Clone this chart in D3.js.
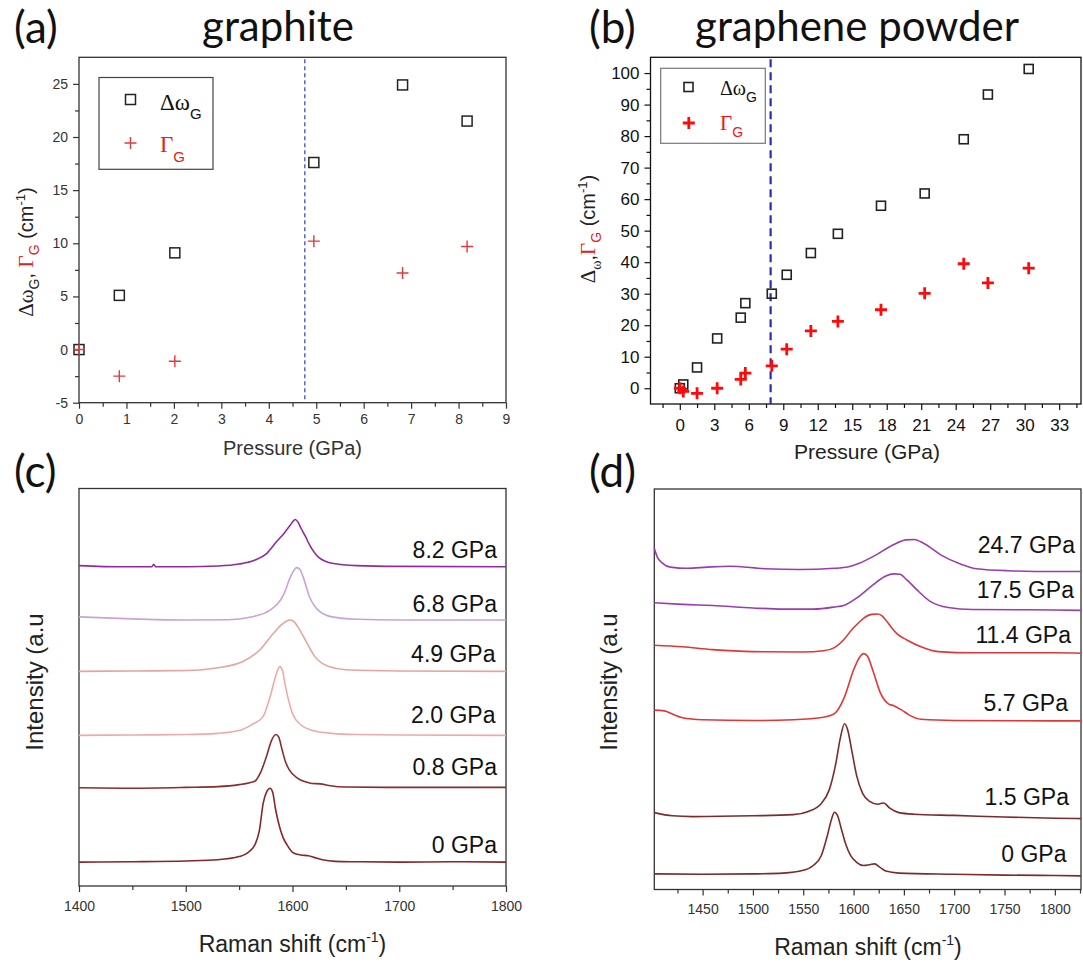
<!DOCTYPE html>
<html><head><meta charset="utf-8">
<script src="https://cdn.jsdelivr.net/npm/d3@7"></script>
<style>body{margin:0;background:#fff}</style>
</head><body><svg id="c" width="1083" height="966"></svg>
<script>
// ---------------- DATA ----------------
// (a) graphite
const pressureA = [0, 0.85, 2.02, 4.95, 6.82, 8.18];
const shiftA    = [0, 5.1, 9.1, 17.6, 24.9, 21.5];
const widthA    = [0, -2.5, -1.1, 10.2, 7.2, 9.7];
const transitionA = 4.76;
const xTicksA = [0,1,2,3,4,5,6,7,8,9];
const yTicksA = [-5,0,5,10,15,20,25];

// (b) graphene powder
const pressureB = [0, 0.3, 1.5, 3.25, 5.3, 5.7, 8.0, 9.3, 11.4, 13.75, 17.5, 21.3, 24.7, 26.8, 30.35];
const shiftB    = [0, 1.2, 6.6, 15.8, 22.4, 27.0, 30.0, 36.0, 42.9, 49.0, 57.9, 61.8, 79.0, 93.2, 101.3];
const widthB    = [0, -1.0, -1.6, 0, 2.8, 4.8, 7.1, 12.4, 18.2, 21.2, 24.9, 30.1, 39.5, 33.4, 38.1];
const transitionB = 7.9;
const xTicksB = [0,3,6,9,12,15,18,21,24,27,30,33];
const yTicksB = [0,10,20,30,40,50,60,70,80,90,100];

// (c) graphite Raman spectra [shift, offset intensity]
const labelsC = ["0 GPa","0.8 GPa","2.0 GPa","4.9 GPa","6.8 GPa","8.2 GPa"];
const specC_0  = [[1400,6.0],[1450,6.1],[1500,6.3],[1530,6.6],[1550,7.4],[1560,8.8],[1565,10.5],[1569,14],[1572.5,20.8],[1576,23.8],[1579,24.6],[1581.5,23.5],[1584,19.5],[1587,15.8],[1591,12.3],[1595,10.3],[1601,8.3],[1608,7.8],[1615,7.6],[1620,7.2],[1628,6.6],[1640,6.2],[1660,6.1],[1700,6.0],[1750,6.1],[1800,6.0]];
const specC_08 = [[1400,24.7],[1450,24.6],[1500,24.8],[1530,25.0],[1550,25.5],[1560,26.0],[1565,26.4],[1570,28.5],[1575.5,32.5],[1580.5,36.7],[1584.4,38.1],[1587,37.5],[1590.3,34.2],[1593.5,31.2],[1597,29.2],[1605,27.1],[1612,26.2],[1618,25.8],[1626,25.7],[1634,25.3],[1650,24.9],[1700,24.8],[1750,24.8],[1800,24.8]];
const specC_20 = [[1400,37.9],[1450,38.0],[1500,38.1],[1530,38.4],[1550,39.1],[1562,40.6],[1572.4,42.6],[1579,47.6],[1584,52.6],[1588,55.2],[1590.5,54.3],[1593.5,50.1],[1597,46],[1600,43.4],[1608,40.5],[1618,39.2],[1637,38.4],[1660,38.1],[1700,38.0],[1800,37.9]];
const specC_49 = [[1400,54.0],[1450,54.1],[1500,54.2],[1530,54.9],[1553,56.4],[1569,59.3],[1582,63.5],[1590,65.8],[1597.4,66.9],[1601,66.6],[1605,65.2],[1613,61.4],[1621,57.7],[1634,55.2],[1650,54.4],[1700,54.1],[1800,54.0]];
const specC_68 = [[1400,67.7],[1450,67.2],[1500,66.9],[1540,67.0],[1560,67.6],[1579,69.4],[1592,73.5],[1598,77.7],[1604,80.1],[1607,79.6],[1610,77.7],[1616,72.7],[1624,69.4],[1637,67.7],[1660,67.1],[1700,66.9],[1800,66.9]];
const specC_82 = [[1400,80.6],[1440,80.3],[1468,80.3],[1470,80.9],[1472,80.3],[1500,80.3],[1530,80.5],[1550,81.0],[1565,82.0],[1576,83.7],[1585,86.6],[1592,88.7],[1598,90.8],[1602.6,92.2],[1605,91.6],[1608,90],[1612,88],[1616,85.8],[1624,82.8],[1637,81.2],[1660,80.6],[1700,80.4],[1800,80.3]];
const xTicksC = [1400,1500,1600,1700,1800];

// (d) graphene powder Raman spectra
const labelsD = ["0 GPa","1.5 GPa","5.7 GPa","11.4 GPa","17.5 GPa","24.7 GPa"];
const specD_0   = [[1402,3.9],[1450,3.8],[1500,3.9],[1530,4.1],[1550,4.8],[1560,6.0],[1568,8.5],[1574,13.5],[1578,17.5],[1581,19.3],[1584,18.5],[1588,15],[1592,11.5],[1597,8.5],[1603,6.8],[1610,6.0],[1616,6.2],[1621,6.4],[1626,5.6],[1632,4.6],[1645,4.1],[1700,3.8],[1750,3.6],[1800,3.5],[1826,3.4]];
const specD_15  = [[1402,19.2],[1420,18.4],[1440,18.2],[1500,18.4],[1540,18.7],[1555,19.5],[1568,21.5],[1576,25],[1582,31],[1587,38],[1591,41.4],[1594,40],[1598,35],[1603,28.5],[1609,24],[1616,22],[1624,21.3],[1630,21.6],[1636,20.3],[1645,19.2],[1660,18.8],[1700,18.5],[1750,18.1],[1800,17.8],[1826,17.7]];
const specD_57  = [[1402,44.8],[1412,44.6],[1420,43.8],[1430,42.9],[1450,42.4],[1500,42.2],[1540,42.4],[1570,43.0],[1581,43.9],[1591,48.1],[1600,54.8],[1606,58.0],[1610,58.9],[1614,58.2],[1619,54.8],[1627,48.9],[1635,46.3],[1640,45.9],[1648,44.8],[1655,43.6],[1667,42.5],[1700,42.2],[1800,42.1],[1826,42.1]];
const specD_114 = [[1402,61.0],[1430,60.6],[1460,59.9],[1500,59.4],[1550,59.3],[1570,59.6],[1581,60.4],[1590,62.3],[1598,64.8],[1605,66.6],[1612,68.1],[1618,68.7],[1624,68.8],[1628,68.4],[1632,67.3],[1638,65.3],[1643,63.9],[1653,62.3],[1667,60.6],[1684,59.4],[1720,59.1],[1800,59.1],[1826,59.0]];
const specD_175 = [[1402,71.6],[1430,71.2],[1460,70.9],[1500,70.3],[1530,70.0],[1560,70.0],[1580,70.5],[1591,71.0],[1605,73.1],[1619,76.0],[1632,78.3],[1640,78.8],[1646,78.7],[1653,77.3],[1663,74.8],[1677,71.8],[1694,70.4],[1718,69.9],[1800,69.8],[1826,69.7]];
const specD_247 = [[1402,85.2],[1405,83.0],[1410,81.5],[1418,80.5],[1435,80.2],[1455,80.5],[1477,80.7],[1512,80.1],[1546,79.9],[1581,80.2],[1595,80.6],[1605,81.4],[1622,83.5],[1639,86.0],[1652,87.3],[1660,87.4],[1670,86.4],[1687,83.5],[1705,81.4],[1722,80.1],[1753,79.6],[1800,79.4],[1826,79.4]];
const xTicksD = [1450,1500,1550,1600,1650,1700,1750,1800];

// ---------------- DRAWING ----------------
const svg = d3.select('#c');
const SANS = "'Liberation Sans', Arial, sans-serif";
const SERIF = "'Liberation Serif', 'Times New Roman', serif";
const TITLE = "Lato, 'Open Sans', sans-serif";
const plain = d => String(d);

function frame(x0, y0, x1, y1, color, sw) {
  svg.append('rect').attr('x', x0).attr('y', y0).attr('width', x1 - x0).attr('height', y1 - y0)
    .attr('fill', 'none').attr('stroke', color).attr('stroke-width', sw);
}
function axis(gen, tx, ty, color, fs) {
  const a = svg.append('g').attr('transform', `translate(${tx},${ty})`).call(gen);
  a.select('.domain').remove();
  a.selectAll('line').attr('stroke', color).attr('stroke-width', 1.2);
  a.selectAll('text').attr('fill', color).style('font-family', SANS).style('font-size', fs + 'px');
  return a;
}
function rich(x, y, rot, anchor, parts) {
  const t = svg.append('text').attr('text-anchor', anchor)
    .attr('transform', `translate(${x},${y}) rotate(${rot})`);
  parts.forEach(p => {
    t.append('tspan').text(p.t).attr('dy', p.dy || 0)
      .style('font-family', p.f || SANS).style('font-size', p.s + 'px')
      .attr('fill', p.c || '#222');
  });
  return t;
}
function title(x, y, txt, fs, anchor) {
  svg.append('text').attr('x', x).attr('y', y).attr('text-anchor', anchor || 'start')
    .style('font-family', TITLE).style('font-size', fs + 'px').attr('fill', '#111').text(txt);
}
const plus = (cx, cy, r) => `M${cx - r},${cy}H${cx + r}M${cx},${cy - r}V${cy + r}`;

// ===== Panel (a) =====
{
  const L = 79, R = 506, T = 57.3, B = 402.7;
  const x = d3.scaleLinear([0, 9], [L, R]);
  const y = d3.scaleLinear([-5, 27.5], [B, T]);
  const col = '#333';
  axis(d3.axisBottom(x).tickValues(d3.range(0.5, 9, 1)).tickSize(4).tickFormat(''), 0, B, col, 14);
  axis(d3.axisBottom(x).tickValues(xTicksA).tickSize(6).tickPadding(5).tickFormat(plain), 0, B, col, 14);
  axis(d3.axisLeft(y).tickValues(d3.range(-2.5, 27.5, 5)).tickSize(4).tickFormat(''), L, 0, col, 14);
  axis(d3.axisLeft(y).tickValues(yTicksA).tickSize(6).tickPadding(5).tickFormat(plain), L, 0, col, 14);
  frame(L, T, R, B, col, 1.3);
  svg.append('line').attr('x1', x(transitionA)).attr('x2', x(transitionA)).attr('y1', T + 2).attr('y2', B)
    .attr('stroke', '#2a3cc8').attr('stroke-width', 1.2).attr('stroke-dasharray', '4,3');
  svg.append('g').selectAll('rect').data(pressureA).join('rect')
    .attr('x', (d, i) => x(d) - 5).attr('y', (d, i) => y(shiftA[i]) - 5).attr('width', 10).attr('height', 10)
    .attr('fill', 'none').attr('stroke', '#222').attr('stroke-width', 1.5);
  svg.append('g').selectAll('path').data(pressureA).join('path')
    .attr('d', (d, i) => plus(x(d), y(widthA[i]), 6))
    .attr('stroke', '#e23a3a').attr('stroke-width', 1.4).attr('fill', 'none');
  // legend
  frame(99, 77.5, 213, 169.3, '#444', 1.2);
  svg.append('rect').attr('x', 125.5).attr('y', 94.5).attr('width', 10).attr('height', 10)
    .attr('fill', 'none').attr('stroke', '#222').attr('stroke-width', 1.5);
  svg.append('path').attr('d', plus(130.5, 143, 6)).attr('stroke', '#e23a3a').attr('stroke-width', 1.4);
  rich(160, 110, 0, 'start', [{t: 'Δω', f: SERIF, s: 23, c: '#111'}, {t: 'G', s: 15, dy: 9, c: '#111'}]);
  rich(160, 151.7, 0, 'start', [{t: 'Γ', f: SERIF, s: 23, c: '#e02020'}, {t: 'G', s: 15, dy: 10, c: '#e02020'}]);
  // axis labels
  rich(292.5, 455, 0, 'middle', [{t: 'Pressure (GPa)', s: 20, c: '#333'}]);
  rich(33, 252, -90, 'middle', [
    {t: 'Δω', f: SERIF, s: 21, c: '#222'}, {t: 'G', s: 14, dy: 6, c: '#222'}, {t: ', ', s: 20, dy: -6, c: '#222'},
    {t: 'Γ', f: SERIF, s: 21, c: '#e02020'}, {t: 'G', s: 14, dy: 6, c: '#e02020'},
    {t: ' (cm', s: 20, dy: -6, c: '#222'}, {t: '-1', s: 13, dy: -8, c: '#222'}, {t: ')', s: 20, dy: 8, c: '#222'}]);
  title(14, 43, '(a)', 44);
  title(278, 41, 'graphite', 42, 'middle');
}

// ===== Panel (b) =====
{
  const L = 650.5, R = 1081, T = 57.3, B = 404;
  const x = d3.scaleLinear([-2.55, 34.9], [L, R]);
  const y = d3.scaleLinear([-5, 105], [B, T]);
  const col = '#111';
  axis(d3.axisBottom(x).tickValues(d3.range(-1.5, 35, 3)).tickSize(4).tickFormat(''), 0, B, col, 17);
  axis(d3.axisBottom(x).tickValues(xTicksB).tickSize(6).tickPadding(9).tickFormat(plain), 0, B, col, 17);
  axis(d3.axisLeft(y).tickValues(d3.range(5, 105, 10)).tickSize(4).tickFormat(''), L, 0, col, 17);
  axis(d3.axisLeft(y).tickValues(yTicksB).tickSize(6).tickPadding(5).tickFormat(plain), L, 0, col, 17);
  frame(L, T, R, B, col, 1.3);
  svg.append('line').attr('x1', x(transitionB)).attr('x2', x(transitionB)).attr('y1', T + 2).attr('y2', B)
    .attr('stroke', '#2a2ea8').attr('stroke-width', 2.2).attr('stroke-dasharray', '8,5');
  svg.append('g').selectAll('rect').data(pressureB).join('rect')
    .attr('x', (d, i) => x(d) - 4.5).attr('y', (d, i) => y(shiftB[i]) - 4.5).attr('width', 9).attr('height', 9)
    .attr('fill', 'none').attr('stroke', '#222').attr('stroke-width', 1.6);
  svg.append('g').selectAll('path').data(pressureB).join('path')
    .attr('d', (d, i) => plus(x(d), y(widthB[i]), 6))
    .attr('stroke', '#ff0a0a').attr('stroke-width', 2.8).attr('fill', 'none');
  // legend
  frame(660.7, 68.3, 765.3, 143.3, '#777', 1.2);
  svg.append('rect').attr('x', 684).attr('y', 82.5).attr('width', 9).attr('height', 9)
    .attr('fill', 'none').attr('stroke', '#222').attr('stroke-width', 1.6);
  svg.append('path').attr('d', plus(688.8, 123, 6)).attr('stroke', '#ff0a0a').attr('stroke-width', 2.8);
  rich(720, 95, 0, 'start', [{t: 'Δω', f: SERIF, s: 20, c: '#111'}, {t: 'G', s: 14, dy: 7, c: '#111'}]);
  rich(720, 130, 0, 'start', [{t: 'Γ', f: SERIF, s: 21, c: '#ff1010'}, {t: 'G', s: 14, dy: 7, c: '#ff1010'}]);
  // axis labels
  rich(867, 459, 0, 'middle', [{t: 'Pressure (GPa)', s: 21, c: '#222'}]);
  rich(595, 229, -90, 'middle', [
    {t: 'Δ', f: SERIF, s: 21, c: '#222'}, {t: 'ω', f: SERIF, s: 14, dy: 6, c: '#222'}, {t: ',', s: 20, dy: -6, c: '#222'},
    {t: 'Γ', f: SERIF, s: 21, c: '#e02020'}, {t: 'G', s: 14, dy: 6, c: '#e02020'},
    {t: ' (cm', s: 20, dy: -6, c: '#222'}, {t: '-1', s: 13, dy: -8, c: '#222'}, {t: ')', s: 20, dy: 8, c: '#222'}]);
  title(589, 43, '(b)', 44);
  title(857, 41, 'graphene powder', 42, 'middle');
}

// ===== Panel (c) =====
{
  const L = 79, R = 506, T = 488.5, B = 886;
  const x = d3.scaleLinear([1400, 1800], [L, R]);
  const y = d3.scaleLinear([0, 100], [B, T]);
  const col = '#333';
  axis(d3.axisBottom(x).tickValues(d3.range(1450, 1800, 100)).tickSize(4).tickFormat(''), 0, B, col, 14);
  axis(d3.axisBottom(x).tickValues(xTicksC).tickSize(6).tickPadding(9).tickFormat(plain), 0, B, col, 14);
  frame(L, T, R, B, col, 1.3);
  const specs = [specC_0, specC_08, specC_20, specC_49, specC_68, specC_82];
  const colors = ['#86262a', '#8a2c2e', '#eeaaa8', '#e8a49c', '#caa2d6', '#8e2c9e'];
  const line = d3.line().x(d => x(d[0])).y(d => y(d[1])).curve(d3.curveMonotoneX);
  specs.forEach((s, i) => svg.append('path').attr('d', line(s)).attr('fill', 'none')
    .attr('stroke', colors[i]).attr('stroke-width', 1.6));
  const labelBase = [852.5, 775, 722.5, 662, 612, 557.5];
  const labelRight = [497, 497, 495.5, 495.5, 497, 497];
  labelsC.forEach((t, i) => svg.append('text').attr('x', labelRight[i]).attr('y', labelBase[i])
    .attr('text-anchor', 'end').style('font-family', SANS).style('font-size', '23px').attr('fill', '#111').text(t));
  rich(292.5, 952, 0, 'middle', [{t: 'Raman shift (cm', s: 23, c: '#222'}, {t: '-1', s: 14, dy: -10, c: '#222'}, {t: ')', s: 23, dy: 10, c: '#222'}]);
  rich(43, 682, -90, 'middle', [{t: 'Intensity (a.u', s: 24, c: '#222'}]);
  title(14, 487, '(c)', 44);
}

// ===== Panel (d) =====
{
  const L = 654.3, R = 1081, T = 489, B = 889.5;
  const x = d3.scaleLinear([1402, 1826], [L, R]);
  const y = d3.scaleLinear([0, 100], [B, T]);
  const col = '#333';
  axis(d3.axisBottom(x).tickValues(d3.range(1425, 1826, 50)).tickSize(4).tickFormat(''), 0, B, col, 14);
  axis(d3.axisBottom(x).tickValues(xTicksD).tickSize(6).tickPadding(9).tickFormat(plain), 0, B, col, 14);
  frame(L, T, R, B, col, 1.3);
  const specs = [specD_0, specD_15, specD_57, specD_114, specD_175, specD_247];
  const colors = ['#7c2a2c', '#7c2a2c', '#e23636', '#e23636', '#9b3cae', '#9b3cae'];
  const line = d3.line().x(d => x(d[0])).y(d => y(d[1])).curve(d3.curveMonotoneX);
  specs.forEach((s, i) => svg.append('path').attr('d', line(s)).attr('fill', 'none')
    .attr('stroke', colors[i]).attr('stroke-width', 1.6));
  const labelBase = [862, 805, 711, 643, 598, 552.5];
  const labelRight = [1066.5, 1069, 1068, 1071, 1074, 1075];
  labelsD.forEach((t, i) => svg.append('text').attr('x', labelRight[i]).attr('y', labelBase[i])
    .attr('text-anchor', 'end').style('font-family', SANS).style('font-size', '23px').attr('fill', '#111').text(t));
  rich(868, 955, 0, 'middle', [{t: 'Raman shift (cm', s: 23, c: '#222'}, {t: '-1', s: 14, dy: -10, c: '#222'}, {t: ')', s: 23, dy: 10, c: '#222'}]);
  rich(617, 682, -90, 'middle', [{t: 'Intensity (a.u', s: 24, c: '#222'}]);
  title(589, 487, '(d)', 44);
}
</script></body></html>
